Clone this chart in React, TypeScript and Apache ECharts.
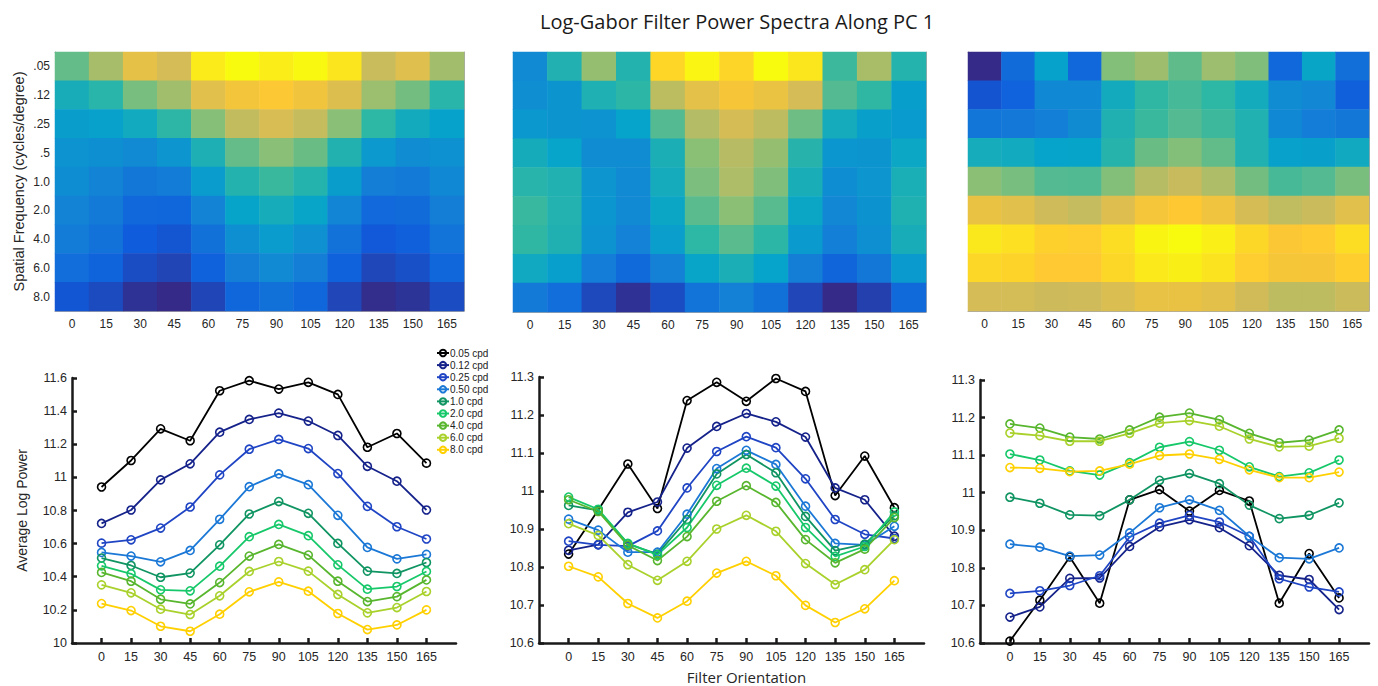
import React, { useEffect, useRef } from "react";
import * as echarts from "echarts";

const orientations = [0, 15, 30, 45, 60, 75, 90, 105, 120, 135, 150, 165];
const freqLabels = [".05", ".12", ".25", ".5", "1.0", "2.0", "4.0", "6.0", "8.0"];
const seriesNames = ["0.05 cpd", "0.12 cpd", "0.25 cpd", "0.50 cpd", "1.0 cpd", "2.0 cpd", "4.0 cpd", "6.0 cpd", "8.0 cpd"];
const seriesColors = ["#000000", "#15228a", "#1f45c4", "#1b78d6", "#0f9462", "#17c86a", "#58b62e", "#a9d12b", "#ffd000"];
const parula = ["#352a87", "#0f5cdd", "#1481d6", "#06a4ca", "#2eb7a4", "#87bf77", "#d1bb59", "#fec832", "#f9fb0e"];

// Panel 1 (left)
const p1_005 = [10.942, 11.102, 11.293, 11.221, 11.523, 11.584, 11.533, 11.574, 11.501, 11.182, 11.265, 11.086];
const p1_012 = [10.722, 10.803, 10.985, 11.082, 11.273, 11.35, 11.388, 11.34, 11.253, 11.067, 10.977, 10.803];
const p1_025 = [10.603, 10.623, 10.694, 10.821, 11.015, 11.17, 11.229, 11.174, 11.023, 10.825, 10.702, 10.628];
const p1_050 = [10.547, 10.525, 10.49, 10.559, 10.747, 10.944, 11.021, 10.956, 10.771, 10.577, 10.508, 10.535];
const p1_10 = [10.513, 10.468, 10.397, 10.422, 10.593, 10.779, 10.854, 10.783, 10.601, 10.434, 10.42, 10.486];
const p1_20 = [10.466, 10.418, 10.321, 10.315, 10.464, 10.642, 10.716, 10.648, 10.472, 10.325, 10.341, 10.432];
const p1_40 = [10.426, 10.373, 10.264, 10.236, 10.365, 10.525, 10.595, 10.531, 10.373, 10.25, 10.28, 10.381];
const p1_60 = [10.351, 10.303, 10.204, 10.172, 10.285, 10.432, 10.492, 10.434, 10.293, 10.182, 10.214, 10.311];
const p1_80 = [10.238, 10.196, 10.101, 10.071, 10.174, 10.309, 10.369, 10.313, 10.178, 10.081, 10.109, 10.2];

// Panel 2 (middle)
const p2_005 = [10.834, 10.95, 11.071, 10.954, 11.238, 11.286, 11.236, 11.296, 11.262, 10.988, 11.092, 10.956];
const p2_012 = [10.844, 10.859, 10.944, 10.971, 11.113, 11.17, 11.204, 11.182, 11.142, 11.008, 10.977, 10.881];
const p2_025 = [10.868, 10.858, 10.855, 10.895, 11.008, 11.104, 11.143, 11.114, 11.032, 10.925, 10.886, 10.875];
const p2_050 = [10.926, 10.897, 10.839, 10.839, 10.939, 11.059, 11.107, 11.07, 10.96, 10.862, 10.858, 10.907];
const p2_10 = [10.962, 10.949, 10.861, 10.834, 10.925, 11.045, 11.096, 11.048, 10.933, 10.843, 10.86, 10.935];
const p2_20 = [10.984, 10.952, 10.862, 10.832, 10.904, 11.015, 11.06, 11.013, 10.904, 10.828, 10.854, 10.945];
const p2_40 = [10.977, 10.946, 10.857, 10.817, 10.88, 10.973, 11.014, 10.97, 10.872, 10.811, 10.847, 10.93];
const p2_60 = [10.914, 10.883, 10.806, 10.765, 10.815, 10.9, 10.936, 10.894, 10.809, 10.754, 10.793, 10.872];
const p2_80 = [10.802, 10.774, 10.704, 10.666, 10.71, 10.784, 10.815, 10.777, 10.699, 10.654, 10.69, 10.764];

// Panel 3 (right)
const p3_005 = [10.605, 10.714, 10.829, 10.706, 10.981, 11.008, 10.951, 11.006, 10.978, 10.706, 10.838, 10.72];
const p3_012 = [10.669, 10.696, 10.772, 10.773, 10.857, 10.909, 10.928, 10.907, 10.859, 10.78, 10.769, 10.689];
const p3_025 = [10.732, 10.739, 10.753, 10.779, 10.882, 10.919, 10.94, 10.922, 10.884, 10.771, 10.749, 10.736];
const p3_050 = [10.863, 10.855, 10.831, 10.834, 10.893, 10.96, 10.981, 10.953, 10.884, 10.827, 10.824, 10.853];
const p3_10 = [10.988, 10.972, 10.941, 10.939, 10.981, 11.033, 11.051, 11.024, 10.967, 10.931, 10.94, 10.973];
const p3_20 = [11.103, 11.087, 11.058, 11.047, 11.08, 11.121, 11.136, 11.113, 11.069, 11.043, 11.053, 11.087];
const p3_40 = [11.183, 11.172, 11.148, 11.143, 11.167, 11.201, 11.212, 11.194, 11.158, 11.133, 11.14, 11.167];
const p3_60 = [11.159, 11.152, 11.137, 11.137, 11.158, 11.185, 11.192, 11.177, 11.143, 11.122, 11.124, 11.145];
const p3_80 = [11.067, 11.065, 11.056, 11.058, 11.076, 11.099, 11.103, 11.089, 11.061, 11.04, 11.04, 11.055];

const panels = [
  [p1_005, p1_012, p1_025, p1_050, p1_10, p1_20, p1_40, p1_60, p1_80],
  [p2_005, p2_012, p2_025, p2_050, p2_10, p2_20, p2_40, p2_60, p2_80],
  [p3_005, p3_012, p3_025, p3_050, p3_10, p3_20, p3_40, p3_60, p3_80],
];
const lineYRanges = [
  { min: 10, max: 11.6, interval: 0.2 },
  { min: 10.6, max: 11.3, interval: 0.1 },
  { min: 10.6, max: 11.3, interval: 0.1 },
];

const heatGrids = [
  { left: 55, top: 52, width: 409, height: 259 },
  { left: 513, top: 52, width: 413, height: 260 },
  { left: 968, top: 52, width: 401, height: 259 },
];
const lineGrids = [
  { left: 72, top: 378, width: 384, height: 265 },
  { left: 539, top: 377, width: 385, height: 266 },
  { left: 980, top: 380, width: 389, height: 263 },
];

const LABEL_FONT = "'Liberation Sans', Arial, sans-serif";
const TITLE_FONT = "'Open Sans', sans-serif";

function buildOption() {
  const grid: any[] = [];
  const xAxis: any[] = [];
  const yAxis: any[] = [];
  const series: any[] = [];
  const visualMap: any[] = [];

  // heatmaps
  heatGrids.forEach((g, k) => {
    grid.push({ ...g, containLabel: false });
    const gi = grid.length - 1;
    const frame = { show: true, lineStyle: { color: "#a8a8a8", width: 1 } };
    const xb = xAxis.length;
    xAxis.push({
      gridIndex: gi, type: "category", position: "bottom", data: orientations.map(String),
      axisLine: frame,
      axisTick: { show: true, inside: true, length: 3, alignWithLabel: true, lineStyle: { color: "#6a6a6a" } },
      axisLabel: { fontSize: 12, color: "#262626", margin: 7, fontFamily: LABEL_FONT },
      splitLine: { show: false },
    });
    xAxis.push({
      gridIndex: gi, type: "category", position: "top", data: orientations.map(String),
      axisLine: frame,
      axisTick: { show: true, inside: true, length: 3, alignWithLabel: true, lineStyle: { color: "#6a6a6a" } },
      axisLabel: { show: false }, splitLine: { show: false },
    });
    const yb = yAxis.length;
    yAxis.push({
      gridIndex: gi, type: "category", position: "left", inverse: true, data: freqLabels,
      axisLine: frame,
      axisTick: { show: k === 0, inside: true, length: 3, alignWithLabel: true, lineStyle: { color: "#6a6a6a" } },
      axisLabel: { show: k === 0, fontSize: 12, color: "#262626", margin: 5, fontFamily: LABEL_FONT },
      splitLine: { show: false },
      name: k === 0 ? "Spatial Frequency (cycles/degree)" : "",
      nameLocation: "middle", nameGap: 29, nameRotate: 90,
      nameTextStyle: { fontFamily: LABEL_FONT, fontSize: 14.5, color: "#262626" },
    });
    yAxis.push({
      gridIndex: gi, type: "category", position: "right", inverse: true, data: freqLabels,
      axisLine: frame,
      axisTick: { show: k === 0, inside: true, length: 3, alignWithLabel: true, lineStyle: { color: "#6a6a6a" } },
      axisLabel: { show: false }, splitLine: { show: false },
    });
    const rows = panels[k];
    const data: any[] = [];
    let mn = Infinity, mx = -Infinity;
    rows.forEach((row, r) => row.forEach((v, c) => {
      data.push([c, r, v]);
      mn = Math.min(mn, v); mx = Math.max(mx, v);
    }));
    series.push({
      type: "heatmap", xAxisIndex: xb, yAxisIndex: yb, data,
      itemStyle: { borderWidth: 0 }, emphasis: { disabled: true }, silent: true,
    });
    visualMap.push({
      show: false, seriesIndex: series.length - 1, min: mn, max: mx, dimension: 2,
      inRange: { color: parula },
    });
  });

  // line charts
  lineGrids.forEach((g, k) => {
    grid.push({ ...g, containLabel: false });
    const gi = grid.length - 1;
    const axisCol = "#1a1a1a";
    const xi = xAxis.length;
    xAxis.push({
      gridIndex: gi, type: "value", min: -15, max: 180, interval: 15,
      axisLine: { show: true, onZero: false, lineStyle: { color: axisCol, width: 2.5 } },
      axisTick: { show: true, inside: true, length: 5, customValues: orientations, lineStyle: { color: axisCol, width: 2.5 } },
      axisLabel: {
        customValues: orientations,
        formatter: (v: number) => (v < 0 || v > 165 ? "" : String(v)),
        fontSize: 12.5, color: "#262626", margin: 7, fontFamily: LABEL_FONT,
      },
      splitLine: { show: false },
      name: k === 1 ? "Filter Orientation" : "",
      nameLocation: "middle", nameGap: 26,
      nameTextStyle: { fontFamily: TITLE_FONT, fontSize: 15, color: "#262626", padding: [0, 0, 0, 30] },
    });
    const yi = yAxis.length;
    const yr = lineYRanges[k];
    yAxis.push({
      gridIndex: gi, type: "value", min: yr.min, max: yr.max, interval: yr.interval,
      axisLine: { show: true, onZero: false, lineStyle: { color: axisCol, width: 2.5 } },
      axisTick: { show: true, inside: true, length: 5, lineStyle: { color: axisCol, width: 2.5 } },
      axisLabel: { fontSize: 12.5, color: "#262626", margin: 5, fontFamily: LABEL_FONT },
      splitLine: { show: false },
      name: k === 0 ? "Average Log Power" : "",
      nameLocation: "middle", nameGap: 43, nameRotate: 90,
      nameTextStyle: { fontFamily: LABEL_FONT, fontSize: 14, color: "#262626" },
    });
    panels[k].forEach((row, s) => {
      const c = seriesColors[s];
      series.push({
        type: "line", name: seriesNames[s], xAxisIndex: xi, yAxisIndex: yi,
        data: orientations.map((o, i) => [o, row[i]]),
        symbol: "circle", symbolSize: 8, showSymbol: true, showAllSymbol: true,
        lineStyle: { color: c, width: 1.8 },
        itemStyle: { color: "rgba(255,255,255,0)", borderColor: c, borderWidth: 1.6 },
        emphasis: { disabled: true }, silent: true,
      });
    });
  });

  return {
    animation: false,
    backgroundColor: "#ffffff",
    title: {
      text: "Log-Gabor Filter Power Spectra Along PC 1",
      left: 535, top: 6,
      textStyle: { fontFamily: TITLE_FONT, fontSize: 20, fontWeight: "normal", color: "#1a1a1a" },
    },
    legend: {
      data: seriesNames, orient: "vertical", left: 431, top: 343,
      itemWidth: 12, itemHeight: 8, itemGap: 2.1,
      textStyle: { fontSize: 10, color: "#222222", fontFamily: LABEL_FONT, padding: [0, 0, 0, -4] },
      selectedMode: false,
    },
    grid, xAxis, yAxis, series, visualMap,
  };
}

export default function App() {
  const ref = useRef<HTMLDivElement>(null);
  useEffect(() => {
    document.body.style.margin = "0";
    const chart = echarts.init(ref.current!, null, { renderer: "svg" });
    chart.setOption(buildOption() as any);
    return () => chart.dispose();
  }, []);
  return <div ref={ref} style={{ width: 1378, height: 686 }} />;
}
